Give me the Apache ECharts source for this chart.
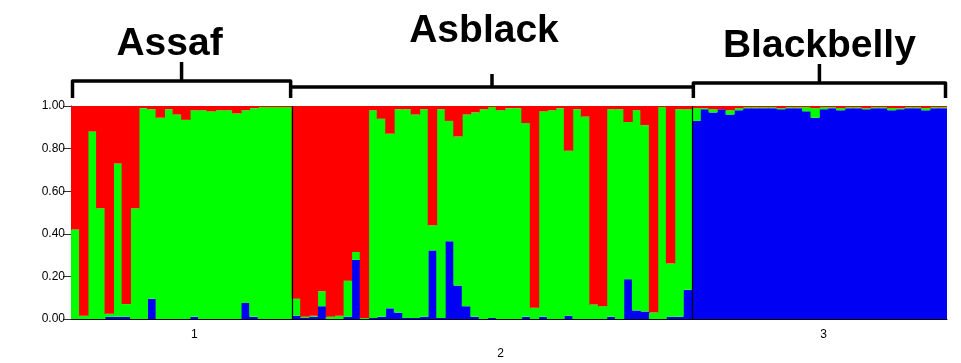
<!DOCTYPE html>
<html>
<head>
<meta charset="utf-8">
<script src="https://cdn.jsdelivr.net/npm/echarts@6/dist/echarts.min.js"></script>
<style>
html, body { margin: 0; padding: 0; background: #fff; }
#main { width: 961px; height: 363px; }
</style>
</head>
<body>
<div id="main"></div>
<script>
// populations, in plot order
var groupNames = ['Assaf', 'Asblack', 'Blackbelly'];
var groupSizes = [26, 47, 30];

// membership (Q) per individual, cluster 3 (blue) at bottom, 2 (green), 1 (red) on top
var blueVals = [
    // Assaf
    0, 0, 0, 0, 0.01, 0.01, 0.01, 0, 0, 0.095, 0, 0, 0, 0, 0.01, 0, 0, 0, 0, 0, 0.075, 0.01, 0, 0, 0, 0,
    // Asblack
    0.015, 0.005, 0.01, 0.06, 0, 0, 0.01, 0.278, 0, 0.005, 0.01, 0.05,
    0.03, 0.005, 0.005, 0.01, 0.322, 0.005, 0.365, 0.157, 0.06, 0.01, 0, 0.005,
    0, 0, 0, 0.01, 0, 0.01, 0, 0, 0.015, 0, 0, 0, 0,
    0.01, 0, 0.187, 0.04, 0.035, 0, 0, 0.01, 0.01, 0.137,
    // Blackbelly
    0.93, 0.985, 0.97, 0.985, 0.96, 0.98, 0.99, 0.99, 0.99, 0.99, 0.985, 0.99, 0.99, 0.975, 0.945,
    0.985, 0.99, 0.98, 0.99, 0.99, 0.985, 0.99, 0.99, 0.98, 0.985, 0.99, 0.99, 0.98, 0.99, 0.99
];
var greenVals = [
    0.42, 0.015, 0.88, 0.52, 0.015, 0.72, 0.06, 0.52, 0.99, 0.89, 0.945, 0.985, 0.96, 0.935, 0.97, 0.98, 0.975, 0.98, 0.98, 0.965, 0.905, 0.98, 0.995, 0.995, 0.995, 0.995,
    0.08, 0.005, 0.005, 0.07, 0.01, 0.015, 0.17, 0.037, 0.005, 0.975, 0.93, 0.82,
    0.955, 0.98, 0.955, 0.975, 0.118, 0.98, 0.565, 0.70, 0.90, 0.96, 0.985, 0.99,
    0.98, 0.99, 0.99, 0.91, 0.053, 0.965, 0.98, 0.99, 0.775, 0.985, 0.95, 0.068, 0.06,
    0.975, 0.985, 0.738, 0.94, 0.875, 0.03, 0.995, 0.25, 0.975, 0.848,
    0.06, 0.005, 0.015, 0, 0.02, 0.01, 0.005, 0.005, 0.005, 0.005, 0.005, 0.005, 0.005, 0.02, 0.045,
    0.01, 0.005, 0.01, 0.005, 0.005, 0.005, 0.005, 0.005, 0.01, 0.005, 0.005, 0.005, 0.01, 0.005, 0.005
];
var redVals = [
    0.58, 0.985, 0.12, 0.48, 0.975, 0.27, 0.93, 0.48, 0.01, 0.015, 0.055, 0.015, 0.04, 0.065, 0.02, 0.02, 0.025, 0.02, 0.02, 0.035, 0.02, 0.01, 0.005, 0.005, 0.005, 0.005,
    0.905, 0.99, 0.985, 0.87, 0.99, 0.985, 0.82, 0.685, 0.995, 0.02, 0.06, 0.13,
    0.015, 0.015, 0.04, 0.015, 0.56, 0.015, 0.07, 0.143, 0.04, 0.03, 0.015, 0.005,
    0.02, 0.01, 0.01, 0.08, 0.947, 0.025, 0.02, 0.01, 0.21, 0.015, 0.05, 0.932, 0.94,
    0.015, 0.015, 0.075, 0.02, 0.09, 0.97, 0.005, 0.74, 0.015, 0.015,
    0.01, 0.01, 0.015, 0.015, 0.02, 0.01, 0.005, 0.005, 0.005, 0.005, 0.01, 0.005, 0.005, 0.005, 0.01,
    0.005, 0.005, 0.01, 0.005, 0.005, 0.01, 0.005, 0.005, 0.01, 0.01, 0.005, 0.005, 0.01, 0.005, 0.005
];

// x axis: tick label at these individuals
var tickIndex = [14, 50, 88];
var tickText = ['1', '2', '3'];

var individuals = blueVals.map(function (v, i) { return String(i + 1); });

var colors = { red: '#ff0000', green: '#00ff00', blue: '#0000f5' };
var labelFont = 'Liberation Sans';

var myChart = echarts.init(document.getElementById('main'));

var gridLeft = 71, gridRight = 14;
// bars a touch wider than their band so no white seams show between them
var barW = (myChart.getWidth() - gridLeft - gridRight) / individuals.length + 0.9;

function barSeries(name, data, color) {
    return {
        name: name,
        type: 'bar',
        stack: 'q',
        data: data,
        barWidth: barW,
        itemStyle: { color: color },
        emphasis: { disabled: true }
    };
}

var option = {
    animation: false,
    backgroundColor: '#fff',
    grid: { left: gridLeft, right: gridRight, top: 106, bottom: 37 },
    xAxis: {
        type: 'category',
        data: individuals,
        axisLine: { lineStyle: { color: '#000', width: 1 } },
        axisTick: {
            alignWithLabel: true,
            length: 8,
            interval: function (idx) { return tickIndex.indexOf(idx) >= 0; },
            lineStyle: { color: '#333' }
        },
        axisLabel: {
            interval: function (idx) { return tickIndex.indexOf(idx) >= 0; },
            formatter: function (v, idx) {
                var k = tickIndex.indexOf(idx);
                if (k < 0) return '';
                return k === 1 ? '\n' + tickText[k] : tickText[k];
            },
            color: '#000',
            fontFamily: labelFont,
            fontSize: 12,
            lineHeight: 19,
            margin: 6
        },
        splitLine: { show: false }
    },
    yAxis: {
        type: 'value',
        min: 0,
        max: 1,
        interval: 0.2,
        axisLine: { show: true, lineStyle: { color: '#000', width: 1 } },
        axisTick: { show: true, length: 8, lineStyle: { color: '#333' } },
        splitLine: { show: false },
        axisLabel: {
            formatter: function (v) { return v.toFixed(2); },
            color: '#000',
            fontFamily: labelFont,
            fontSize: 12,
            margin: 6
        }
    },
    series: [
        barSeries('Cluster 3', blueVals, colors.blue),
        barSeries('Cluster 2', greenVals, colors.green),
        barSeries('Cluster 1', redVals, colors.red)
    ]
};
myChart.setOption(option);

// separators, brackets and population names, placed from the axes
var x0 = myChart.convertToPixel({ xAxisIndex: 0 }, 0);
var band = myChart.convertToPixel({ xAxisIndex: 0 }, 1) - x0;
var yTop = myChart.convertToPixel({ yAxisIndex: 0 }, 1);
var yBot = myChart.convertToPixel({ yAxisIndex: 0 }, 0);
function edge(i) { return x0 - band / 2 + i * band; }

var bracketY = [81, 87, 83];
var tickTopY = [62, 74, 64];
var nameY = [44, 31, 46];
var nameDx = [-12, -8, 0];
var bracketEndY = 98;
var lineW = 3.5;

var graphics = [];
var start = 0;
groupSizes.forEach(function (n, g) {
    var L = edge(start), R = edge(start + n);
    var C = (L + R) / 2;
    if (start > 0) {
        graphics.push({
            type: 'line', z: 10,
            shape: { x1: Math.round(L) + 0.5, y1: yTop, x2: Math.round(L) + 0.5, y2: yBot },
            style: { stroke: '#000', lineWidth: 1.2 }
        });
    }
    var pts;
    if (g === 1) {
        pts = [[L - 1.5, bracketY[g]], [R + 1.5, bracketY[g]]];
    } else {
        pts = [[L + 1.5, bracketEndY], [L + 1.5, bracketY[g]], [R - 1.5, bracketY[g]], [R - 1.5, bracketEndY]];
    }
    graphics.push({
        type: 'polyline', z: 10,
        shape: { points: pts },
        style: { stroke: '#000', lineWidth: lineW, fill: null, lineJoin: 'round', lineCap: 'butt' }
    });
    graphics.push({
        type: 'line', z: 10,
        shape: { x1: C, y1: bracketY[g], x2: C, y2: tickTopY[g] },
        style: { stroke: '#000', lineWidth: lineW }
    });
    graphics.push({
        type: 'text', z: 10,
        x: C + nameDx[g], y: nameY[g],
        style: {
            text: groupNames[g],
            fill: '#000',
            font: 'bold 39px "Liberation Sans", Arial, sans-serif',
            align: 'center',
            verticalAlign: 'middle'
        }
    });
    start += n;
});
myChart.setOption({ graphic: graphics });
</script>
</body>
</html>
